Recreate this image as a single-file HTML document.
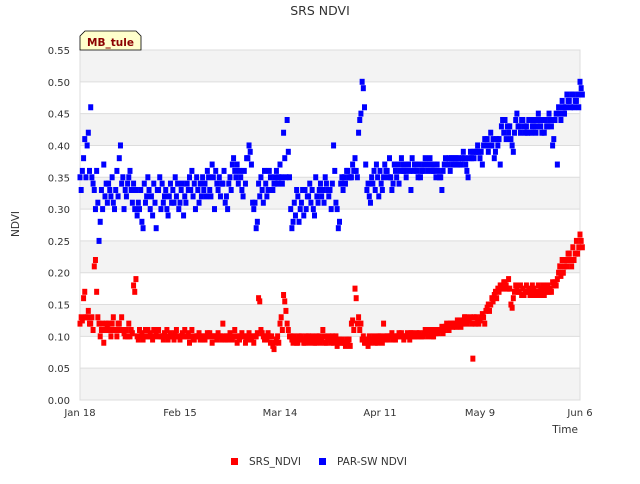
<!DOCTYPE html>
<html><head><meta charset="utf-8"><style>
body{margin:0;background:#fff;font-family:"DejaVu Sans",sans-serif}
</style></head><body>
<svg id="chart" width="640" height="480" xmlns="http://www.w3.org/2000/svg" font-family="DejaVu Sans, Liberation Sans, sans-serif">
<text x="320" y="15" text-anchor="middle" font-size="12.5" fill="#333">SRS NDVI</text>
<g id="bands"></g><g id="grid"></g>
<rect x="80" y="50" width="500" height="350" fill="none" stroke="#ddd"/>
<g id="yticks" font-size="10" fill="#333" text-anchor="end"></g>
<g id="xticks" font-size="10" fill="#333" text-anchor="middle"></g>
<g id="red"></g><g id="blue"></g>
<text transform="translate(19,224) rotate(-90)" text-anchor="middle" font-size="10.5" fill="#333">NDVI</text>
<text x="578" y="433" text-anchor="end" font-size="10.5" fill="#333">Time</text>
<g>
<path d="M80,50 L80,36 L85,31 L136,31 L141,36 L141,50 Z" fill="#ffffcc" stroke="#000" stroke-width="0.8"/>
<text x="110.5" y="46" text-anchor="middle" font-size="10.5" font-weight="bold" fill="#8b0000">MB_tule</text>
</g>
<g><rect x="231" y="458" width="7" height="7" fill="#f00"/><text x="249" y="465" font-size="10.5" fill="#333">SRS_NDVI</text></g>
<g><rect x="319" y="458" width="7" height="7" fill="#00f"/><text x="337" y="465" font-size="10.5" fill="#333">PAR-SW NDVI</text></g>
</svg>
<script>
const yTicks=[0,0.05,0.1,0.15,0.2,0.25,0.3,0.35,0.4,0.45,0.5,0.55];
const xTickDays=[0,28,56,84,112,140];
const xTickLabels=["Jan 18","Feb 15","Mar 14","Apr 11","May 9","Jun 6"];
const blueVals=[[0.35,0.33,0.36],[0.38,0.41,0.35],[0.40,0.42,0.36],[0.46,0.35,0.34],[0.33,0.30,0.36],[0.31,0.25,0.28],[0.33,0.30,0.37],[0.32,0.34,0.31],[0.34,0.33,0.32],[0.35,0.31,0.30],
[0.33,0.36,0.32],[0.38,0.40,0.34],[0.35,0.30,0.33],[0.32,0.34,0.35],[0.36,0.33,0.31],[0.34,0.30,0.33],[0.29,0.31,0.30],[0.33,0.28,0.27],[0.34,0.31,0.32],[0.35,0.33,0.30],
[0.32,0.29,0.34],[0.31,0.27,0.33],[0.33,0.35,0.30],[0.34,0.31,0.32],[0.33,0.30,0.29],[0.32,0.34,0.31],[0.33,0.31,0.35],[0.32,0.34,0.30],[0.31,0.33,0.34],[0.29,0.32,0.31],
[0.34,0.33,0.35],[0.33,0.36,0.32],[0.34,0.30,0.35],[0.33,0.31,0.34],[0.32,0.35,0.33],[0.34,0.32,0.36],[0.35,0.33,0.32],[0.37,0.35,0.30],[0.36,0.34,0.33],[0.35,0.32,0.34],
[0.34,0.36,0.31],[0.32,0.30,0.34],[0.35,0.33,0.37],[0.38,0.36,0.35],[0.37,0.34,0.36],[0.35,0.33,0.32],[0.36,0.34,0.38],[0.38,0.40,0.39],[0.37,0.31,0.30],[0.31,0.27,0.28],
[0.34,0.32,0.35],[0.33,0.31,0.36],[0.34,0.32,0.33],[0.36,0.35,0.33],[0.33,0.34,0.35],[0.36,0.34,0.35],[0.37,0.35,0.34],[0.42,0.38,0.35],[0.44,0.39,0.35],[0.30,0.27,0.28],
[0.31,0.29,0.33],[0.32,0.28,0.30],[0.31,0.33,0.29],[0.33,0.30,0.32],[0.32,0.34,0.31],[0.33,0.30,0.29],[0.35,0.32,0.31],[0.33,0.34,0.32],[0.33,0.31,0.35],[0.34,0.33,0.32],
[0.33,0.30,0.34],[0.40,0.36,0.31],[0.30,0.27,0.28],[0.34,0.35,0.33],[0.35,0.34,0.36],[0.36,0.35,0.35],[0.35,0.37,0.36],[0.38,0.36,0.35],[0.42,0.44,0.45],[0.50,0.49,0.46],
[0.37,0.33,0.34],[0.32,0.31,0.35],[0.34,0.36,0.33],[0.37,0.35,0.32],[0.36,0.34,0.33],[0.35,0.37,0.36],[0.36,0.35,0.38],[0.35,0.33,0.34],[0.37,0.36,0.35],[0.37,0.34,0.36],
[0.38,0.37,0.36],[0.36,0.35,0.37],[0.37,0.36,0.33],[0.38,0.36,0.37],[0.37,0.36,0.35],[0.37,0.35,0.36],[0.36,0.37,0.38],[0.37,0.36,0.37],[0.38,0.37,0.36],[0.36,0.37,0.35],
[0.37,0.36,0.35],[0.35,0.33,0.36],[0.37,0.38,0.37],[0.37,0.38,0.36],[0.38,0.37,0.38],[0.37,0.38,0.37],[0.38,0.37,0.37],[0.38,0.39,0.38],[0.37,0.36,0.35],[0.38,0.39,0.38],
[0.39,0.38,0.39],[0.39,0.40,0.39],[0.38,0.39,0.37],[0.40,0.41,0.40],[0.41,0.39,0.40],[0.42,0.40,0.41],[0.38,0.39,0.41],[0.40,0.41,0.37],[0.43,0.44,0.42],[0.44,0.41,0.43],
[0.42,0.43,0.41],[0.40,0.39,0.42],[0.44,0.45,0.43],[0.43,0.42,0.44],[0.44,0.43,0.42],[0.43,0.42,0.44],[0.44,0.42,0.43],[0.43,0.44,0.42],[0.43,0.45,0.44],[0.43,0.42,0.44],
[0.42,0.44,0.43],[0.43,0.45,0.44],[0.43,0.40,0.41],[0.44,0.45,0.37],[0.46,0.45,0.44],[0.47,0.46,0.45],[0.46,0.48,0.47],[0.47,0.46,0.48],[0.48,0.46,0.47],[0.47,0.48,0.46],[0.50,0.49,0.48]];
const redVals=[[0.12,0.13,0.125],[0.16,0.17,0.13],[0.13,0.14,0.12],[0.12,0.13,0.11],[0.21,0.22,0.17],[0.13,0.12,0.10],[0.11,0.12,0.09],[0.11,0.12,0.115],[0.12,0.11,0.10],[0.12,0.13,0.11],
[0.11,0.10,0.12],[0.12,0.11,0.13],[0.11,0.105,0.10],[0.11,0.10,0.12],[0.10,0.11,0.105],[0.18,0.17,0.19],[0.10,0.095,0.11],[0.10,0.105,0.095],[0.10,0.11,0.10],[0.11,0.10,0.105],
[0.10,0.095,0.11],[0.10,0.105,0.11],[0.11,0.10,0.10],[0.10,0.095,0.105],[0.10,0.11,0.095],[0.10,0.105,0.10],[0.10,0.095,0.105],[0.11,0.10,0.10],[0.095,0.10,0.105],[0.10,0.11,0.10],
[0.10,0.105,0.09],[0.10,0.11,0.095],[0.095,0.10,0.10],[0.10,0.105,0.095],[0.10,0.095,0.10],[0.095,0.10,0.105],[0.10,0.105,0.10],[0.09,0.10,0.10],[0.10,0.095,0.105],[0.10,0.10,0.095],
[0.12,0.10,0.095],[0.10,0.095,0.10],[0.105,0.10,0.095],[0.10,0.11,0.10],[0.09,0.10,0.095],[0.10,0.105,0.10],[0.10,0.09,0.095],[0.10,0.105,0.10],[0.095,0.10,0.09],[0.10,0.10,0.105],
[0.16,0.155,0.11],[0.105,0.10,0.095],[0.10,0.095,0.105],[0.10,0.09,0.10],[0.085,0.08,0.09],[0.095,0.10,0.09],[0.12,0.13,0.11],[0.165,0.155,0.14],[0.12,0.11,0.10],[0.10,0.095,0.09],
[0.10,0.095,0.09],[0.09,0.10,0.095],[0.10,0.095,0.09],[0.09,0.10,0.095],[0.10,0.09,0.095],[0.10,0.095,0.09],[0.09,0.10,0.095],[0.10,0.09,0.095],[0.11,0.10,0.09],[0.09,0.095,0.10],
[0.095,0.09,0.10],[0.09,0.095,0.10],[0.085,0.09,0.095],[0.09,0.095,0.09],[0.09,0.085,0.095],[0.09,0.095,0.085],[0.12,0.125,0.11],[0.175,0.16,0.12],[0.13,0.11,0.12],[0.095,0.10,0.09],
[0.09,0.095,0.085],[0.10,0.09,0.095],[0.095,0.10,0.09],[0.095,0.09,0.10],[0.10,0.095,0.09],[0.12,0.10,0.095],[0.10,0.095,0.10],[0.10,0.105,0.095],[0.10,0.095,0.10],[0.10,0.105,0.10],
[0.105,0.10,0.095],[0.10,0.10,0.105],[0.10,0.095,0.105],[0.105,0.10,0.10],[0.10,0.105,0.10],[0.105,0.10,0.10],[0.10,0.105,0.11],[0.105,0.10,0.11],[0.11,0.105,0.10],[0.10,0.11,0.105],
[0.11,0.105,0.11],[0.11,0.115,0.105],[0.11,0.115,0.12],[0.115,0.11,0.12],[0.12,0.115,0.12],[0.12,0.115,0.125],[0.12,0.125,0.115],[0.12,0.125,0.13],[0.13,0.12,0.125],[0.125,0.13,0.12],
[0.065,0.13,0.12],[0.13,0.125,0.12],[0.125,0.13,0.135],[0.13,0.12,0.14],[0.145,0.15,0.14],[0.15,0.16,0.155],[0.165,0.17,0.16],[0.175,0.17,0.18],[0.18,0.175,0.185],[0.185,0.18,0.175],
[0.19,0.175,0.15],[0.145,0.16,0.17],[0.18,0.175,0.17],[0.17,0.18,0.165],[0.175,0.165,0.17],[0.18,0.17,0.175],[0.165,0.17,0.18],[0.175,0.165,0.17],[0.17,0.18,0.165],[0.175,0.17,0.18],
[0.165,0.175,0.17],[0.18,0.17,0.175],[0.17,0.185,0.18],[0.185,0.18,0.19],[0.20,0.21,0.195],[0.22,0.20,0.21],[0.22,0.21,0.23],[0.23,0.22,0.21],[0.24,0.22,0.23],[0.25,0.23,0.24],[0.26,0.25,0.24]];

const NS="http://www.w3.org/2000/svg";
const X0=80,X1=580,Y0=400,Y1=50,DAYS=140,YMAX=0.55;
function xs(d){return X0+(d/DAYS)*(X1-X0);}
function ys(v){return Y0-(v/YMAX)*(Y0-Y1);}
function mk(tag,parent,attrs){const e=document.createElementNS(NS,tag);for(const k in attrs)e.setAttribute(k,attrs[k]);document.getElementById(parent).appendChild(e);return e;}
for(let i=0;i<yTicks.length-1;i++){
  if(i%2===0){const b=mk('rect','bands',{x:X0,y:ys(yTicks[i+1]),width:X1-X0,height:ys(yTicks[i])-ys(yTicks[i+1]),fill:'#f3f3f3'});
  
  }
}
yTicks.forEach(v=>{
  const l=mk('line','grid',{x1:X0,x2:X1,y1:ys(v),y2:ys(v),stroke:'#ddd'});
  
  
  const t=mk('text','yticks',{x:X0-10,y:ys(v)+4});
  
  
  t.textContent=v.toFixed(2);
});
xTickDays.forEach((d,i)=>{
  const t=mk('text','xticks',{x:xs(d),y:416});
  
  
  t.textContent=xTickLabels[i];
});
function drawSeries(vals,parent,color,name){
  vals.forEach((day,d)=>{day.forEach((v,j)=>{
    const r=mk('rect',parent,{x:xs(d+j*0.33)-2.5,y:ys(v)-3,width:5,height:6,fill:color});
    
    
  });});
}
drawSeries(redVals,'red','#f00','srs-ndvi-point');
drawSeries(blueVals,'blue','#00f','par-sw-ndvi-point');
</script>
</body></html>
